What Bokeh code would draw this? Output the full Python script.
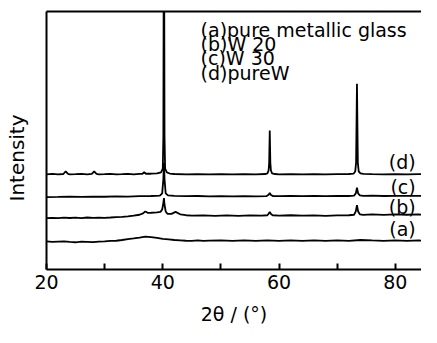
from bokeh.plotting import figure
from bokeh.models import Range1d, FixedTicker, LinearAxis, Label, Title
from bokeh.embed import file_html
from bokeh.resources import INLINE

# ---- data (intensity in arbitrary offset units) ----
a_x = [20, 21, 22, 23, 24, 25, 26, 27, 28, 29, 30, 31, 32, 33, 34, 35, 36, 37, 38, 39,
       40, 41, 42, 43, 44, 45, 46, 47, 48, 50, 52, 54, 56, 58, 60, 62, 64, 66, 68, 70,
       72, 74, 76, 78, 80, 82, 84, 85]
a_y = [29.5, 29, 29.3, 29.6, 29, 28.6, 29.2, 29, 28.7, 29.3, 29.6, 30, 30.2, 31, 32, 32.6, 33.5, 34.5, 34, 33.2,
       32.2, 31.6, 31, 30.6, 30.2, 30, 30.6, 30, 30.3, 30.6, 30, 30.6, 30.1, 30.6, 30, 30.5, 30.1, 30.6, 30, 30.5,
       30.1, 31, 30.5, 30.1, 30.6, 30.1, 30.5, 30.2]

b_x = [20, 21, 22, 23, 24, 25, 26, 27, 28, 29, 30, 31, 32, 33, 34, 35, 36, 36.6, 37, 37.4,
       38, 39, 39.6, 39.9, 40.1, 40.2, 40.3, 40.5, 40.8, 41.5, 42.2, 43, 44, 45, 47, 49, 51, 53,
       55, 57, 58.0, 58.2, 58.4, 58.6, 58.9, 60, 62, 64, 66, 68, 70, 72, 72.9, 73.2, 73.4,
       73.6, 73.9, 74.5, 76, 78, 80, 82, 84, 85]
b_y = [54, 54.3, 54, 54.5, 54.1, 54.4, 54, 54.6, 54.2, 54.5, 54.3, 54.6, 55, 55.3, 55.8, 56.5, 57.5, 59, 61, 59.5,
       59.6, 60, 60.5, 63, 70, 75, 68, 61, 58.5, 58.4, 60.5, 58, 57, 56.5, 56.8, 56.3, 56.8, 56.4,
       56.8, 56.5, 57, 58.5, 60.5, 58.3, 57, 56.6, 57, 56.5, 56.9, 56.4, 56.8, 57, 57.5, 61, 67.5,
       61, 58, 57.3, 57.8, 57.4, 57.9, 57.5, 57.8, 57.6]

c_x = [20, 22, 24, 26, 28, 30, 32, 34, 36, 38, 39.5, 39.9, 40.1, 40.2, 40.3, 40.5, 40.9, 42, 44,
       46, 48, 50, 52, 54, 56, 57.8, 58.2, 58.4, 58.6, 59.0, 60, 62, 64, 66, 68, 70, 72, 72.9,
       73.2, 73.4, 73.6, 73.9, 74.5, 76, 78, 80, 82, 84, 85]
c_y = [76, 76.2, 76.5, 76.3, 76.6, 76.4, 76.8, 76.5, 77, 77.2, 77.5, 80, 95, 112, 95, 80, 77.8, 77.4, 77,
       77.2, 76.9, 77.1, 76.8, 77, 76.8, 77, 78.5, 80.5, 78.3, 77.1, 77, 77.2, 77, 77.2, 77, 77.3, 77.2, 77.6,
       80, 86, 80, 77.8, 77.3, 77.5, 77.2, 77.4, 77.3, 77.4, 77.3]

d_x = [20, 21, 22, 22.9, 23.3, 23.7, 24, 25, 26, 27, 27.8, 28.2, 28.6, 29, 30, 31, 32, 33, 34, 35,
       36, 36.5, 36.8, 37.1, 38, 39, 39.7, 40.0, 40.1, 40.2, 40.3, 40.4, 40.7, 41.2, 42, 44, 46, 48,
       50, 52, 54, 56, 57.6, 58.0, 58.2, 58.3, 58.4, 58.5, 58.6, 58.8, 59.3, 60, 62, 64, 66, 68,
       70, 72, 72.8, 73.1, 73.25, 73.4, 73.55, 73.7, 74.0, 74.5, 76, 78, 80, 82, 84, 85]
d_y = [100, 100.4, 100, 100.3, 103, 100.4, 100, 100.2, 100.5, 100, 100.5, 103, 100.5, 100, 100.2, 100.5, 100, 100.2, 100.5, 100,
       100.5, 100.6, 102.2, 100.6, 100.6, 101, 102, 106, 140, 440, 140, 106, 102, 100.8, 100.3, 100, 100.2, 100,
       100.2, 100, 100.2, 100, 100.3, 101, 104, 112, 146, 112, 104, 101, 100.3, 100, 100.2, 100, 100.2, 100,
       100.2, 100.3, 100.6, 103, 112, 195, 112, 103, 101, 100.4, 100.2, 100, 100.2, 100, 100.2, 100]

series_labels = ["(a)", "(b)", "(c)", "(d)"]
legend_lines = ["(a)pure metallic glass", "(b)W 20", "(c)W 30", "(d)pureW"]
x_ticks = [20, 40, 60, 80]
x_minor_ticks = [30, 50, 70]
x_title = "2θ / (°)"
y_title = "Intensity"

FONT = "DejaVu Sans"

p = figure(width=421, height=327, output_backend="svg", toolbar_location=None,
           x_range=Range1d(20, 84.5), y_range=Range1d(0, 271),
           min_border_left=46, min_border_right=0, min_border_top=11, min_border_bottom=57,
           x_axis_location=None, y_axis_location=None)
p.outline_line_color = None
p.xgrid.visible = False
p.ygrid.visible = False
p.background_fill_color = "white"
p.border_fill_color = "white"

for xs, ys in [(a_x, a_y), (b_x, b_y), (c_x, c_y), (d_x, d_y)]:
    p.line(xs, ys, line_color="black", line_width=1.8)

# bottom axis
xaxis = LinearAxis(ticker=FixedTicker(ticks=x_ticks, minor_ticks=x_minor_ticks))
xaxis.axis_line_width = 2
xaxis.major_tick_in = 6
xaxis.major_tick_out = 0
xaxis.minor_tick_in = 6
xaxis.minor_tick_out = 0
xaxis.major_tick_line_width = 2
xaxis.minor_tick_line_width = 2
xaxis.major_label_text_font = FONT
xaxis.major_label_text_font_size = "19px"
xaxis.major_label_text_color = "black"
xaxis.major_label_standoff = 5
xaxis.axis_label = x_title
xaxis.axis_label_text_font = FONT
xaxis.axis_label_text_font_size = "19px"
xaxis.axis_label_text_font_style = "normal"
xaxis.axis_label_text_color = "black"
xaxis.axis_label_standoff = 11
p.add_layout(xaxis, "below")

# left border (its blank label only reserves room between frame and title)
yaxis = LinearAxis(ticker=FixedTicker(ticks=[]))
yaxis.axis_line_width = 2
yaxis.major_tick_in = 0
yaxis.major_tick_out = 0
yaxis.minor_tick_in = 0
yaxis.minor_tick_out = 0
yaxis.major_label_text_font_size = "0px"
yaxis.axis_label = " "
yaxis.axis_label_text_font_size = "1px"
yaxis.axis_label_standoff = 12
p.add_layout(yaxis, "left")

# top border
taxis = LinearAxis(ticker=FixedTicker(ticks=[]))
taxis.axis_line_width = 2
taxis.major_tick_in = 0
taxis.major_tick_out = 0
taxis.minor_tick_in = 0
taxis.minor_tick_out = 0
taxis.major_label_text_font_size = "0px"
p.add_layout(taxis, "above")

# y title (placed lower than centre, as in the original)
p.add_layout(Title(text=y_title, align="left", offset=68, text_font=FONT,
                   text_font_size="20px", text_font_style="normal", text_color="black",
                   standoff=4), "left")

# legend block at top
legend_y = [252, 237, 222, 206]
for t, yy in zip(legend_lines, legend_y):
    p.add_layout(Label(x=46.5, y=yy, text=t, text_font=FONT, text_font_size="19px",
                       text_align="left", text_baseline="middle", text_color="black"))

# curve labels at right
curve_label_y = [43, 66, 87, 113]
for t, yy in zip(series_labels, curve_label_y):
    p.add_layout(Label(x=83.5, y=yy, text=t, text_font=FONT, text_font_size="19px",
                       text_align="right", text_baseline="middle", text_color="black"))

open("out.html", "w").write(file_html(p, INLINE))
